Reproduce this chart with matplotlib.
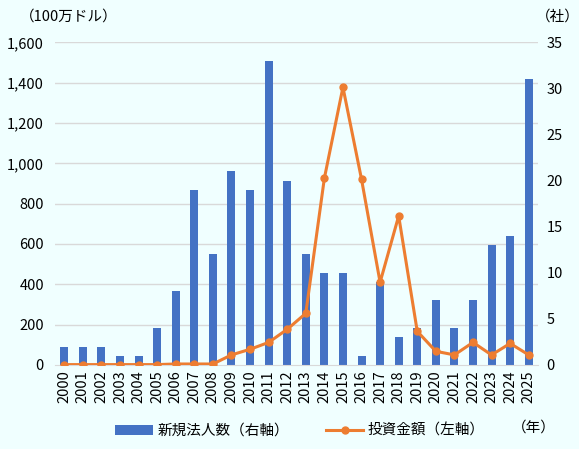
import matplotlib

matplotlib.use("Agg")
import matplotlib.pyplot as plt
from matplotlib.ticker import FuncFormatter

plt.rcParams["font.family"] = ["Noto Sans CJK JP", "DejaVu Sans"]

years = [str(y) for y in range(2000, 2026)]
# 新規法人数 (right axis, companies)
new_companies = [2, 2, 2, 1, 1, 4, 8, 19, 12, 21, 19, 33, 20, 12,
                 10, 10, 1, 9, 3, 4, 7, 4, 7, 13, 14, 31]
# 投資金額 (left axis, million USD)
investment = [2, 2, 2, 2, 2, 2, 5, 5, 5, 50, 78, 112, 177, 256,
              926, 1377, 921, 410, 739, 167, 68, 50, 112, 50, 107, 50]

BAR_COLOR = "#4472C4"
LINE_COLOR = "#ED7D31"
BG = "#F0FFFF"
LEFT_MAX = 1600
RIGHT_MAX = 35

fig = plt.figure(figsize=(5.79, 4.49), dpi=100, facecolor=BG)
ax = fig.add_axes([55 / 579, 1 - 365 / 449, 483 / 579, 322.7 / 449])
ax.set_facecolor(BG)
ax2 = ax.twinx()

x = list(range(len(years)))

# gridlines follow the left axis ticks, drawn on ax2 so they sit under the bars
left_ticks = list(range(0, LEFT_MAX + 1, 200))
for t in left_ticks[1:]:
    ax2.axhline(t * RIGHT_MAX / LEFT_MAX, color="#D9D9D9", linewidth=1, zorder=1)

bars = ax2.bar(x, new_companies, width=0.43, color=BAR_COLOR, zorder=2, label="新規法人数（右軸）")
line, = ax.plot(x, investment, color=LINE_COLOR, linewidth=2.2, marker="o", markersize=5,
                zorder=3, label="投資金額（左軸）")

ax.set_zorder(ax2.get_zorder() + 1)
ax.patch.set_visible(False)
ax2.patch.set_visible(True)
ax2.patch.set_facecolor(BG)

ax.set_xlim(-0.5, len(years) - 0.5)
ax.set_ylim(0, LEFT_MAX)
ax2.set_ylim(0, RIGHT_MAX)
ax.set_yticks(left_ticks)
ax2.set_yticks(range(0, RIGHT_MAX + 1, 5))
ax.yaxis.set_major_formatter(FuncFormatter(lambda v, p: f"{int(v):,}"))

for a in (ax, ax2):
    for s in a.spines.values():
        s.set_visible(False)
    a.tick_params(length=0, labelsize=10.5, colors="#000000")
ax.spines["bottom"].set_visible(True)
ax.spines["bottom"].set_color("#D9D9D9")

ax.set_xticks(x)
ax.set_xticklabels(years, rotation=90, fontsize=10.5)
ax.tick_params(axis="x", pad=4)
ax.tick_params(axis="y", pad=8)
ax2.tick_params(axis="y", pad=6)

fig.text(20 / 579, 1 - 17 / 449, "（100万ドル）", fontsize=10.5, va="center", ha="left")
fig.text(536 / 579, 1 - 17 / 449, "（社）", fontsize=10.5, va="center", ha="left")
fig.text(512 / 579, 1 - 428 / 449, "（年）", fontsize=10.5, va="center", ha="left")

fig.legend(handles=[bars, line], loc="center", bbox_to_anchor=(300 / 579, 1 - 431 / 449),
           ncol=2, frameon=False, fontsize=10.5, handlelength=2.6, columnspacing=2.5,
           handletextpad=0.3)

fig.savefig("out.png", dpi=100, facecolor=BG)
